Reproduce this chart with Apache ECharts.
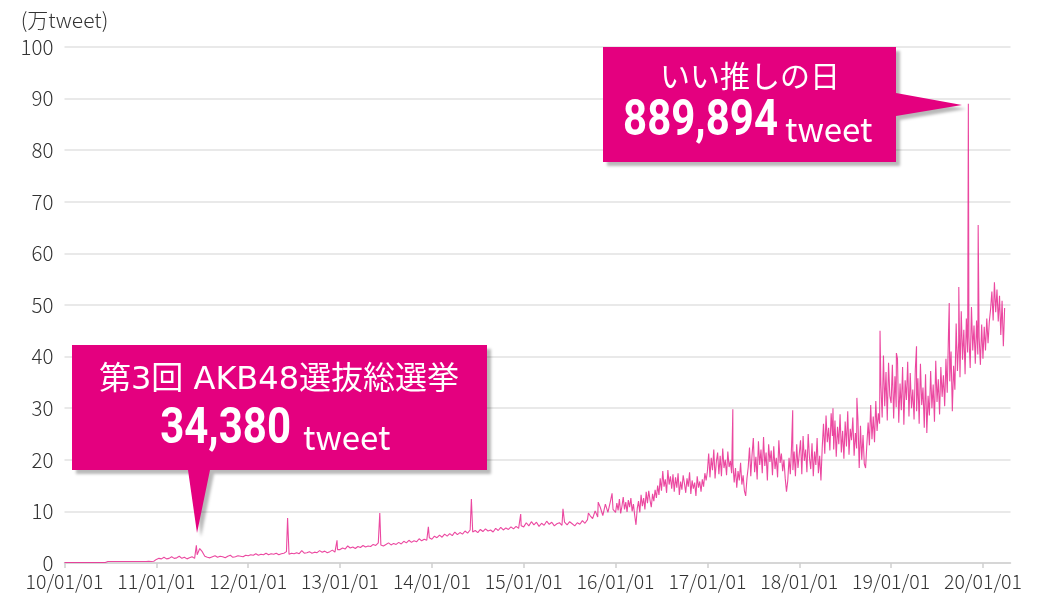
<!DOCTYPE html>
<html><head><meta charset="utf-8">
<script src="https://cdn.jsdelivr.net/npm/echarts@6/dist/echarts.min.js"></script>
<style>html,body{margin:0;padding:0;background:#fff}#c{width:1038px;height:603px}</style>
</head><body><div id="c"></div>
<script>
// x-axis tick labels (one per year start)
const tickYears = [2010,2011,2012,2013,2014,2015,2016,2017,2018,2019,2020];
const tickLabels = ['10/01/01','11/01/01','12/01/01','13/01/01','14/01/01','15/01/01','16/01/01','17/01/01','18/01/01','19/01/01','20/01/01'];

// tweets per day (万 tweet), read at regular steps through each year
const v2010 = [0.1,0.1,0.1,0.1,0.1,0.1,0.1,0.1,0.1,0.1,0.1,0.1,0.1,0.1,0.1,0.1,0.1,0.3,0.3,0.3,0.3,0.3,0.3,0.3,0.3,0.3,0.3,0.3,0.3,0.3,0.3,0.3,0.3,0.35,0.3,0.35];
const v2011 = [0.7,0.9,0.8,1.1,0.8,0.9,1.2,0.9,1.0,1.3,0.9,1.1,0.8,1.0,1.2,0.9,1.6,2.8,2.2,1.3,1.1,1.0,1.2,1.4,1.1,1.3,1.2,1.0,1.3,1.5,1.1,1.2,1.4,1.3,1.2,1.5];
const v2012 = [1.4,1.6,1.5,1.8,1.5,1.7,1.6,1.9,1.6,1.8,1.7,1.9,1.6,1.8,1.9,2.2,1.7,1.9,1.8,2.0,1.8,2.4,1.9,2.0,2.2,1.9,2.1,2.0,2.4,2.1,2.3,2.0,2.2,2.5,2.1,2.6];
const v2013 = [2.6,2.9,2.7,3.3,2.9,3.1,2.8,3.2,3.0,3.4,3.1,3.3,3.2,3.6,3.4,3.9,3.5,3.3,3.6,3.9,3.5,3.8,3.6,4.0,3.7,4.2,3.9,4.4,4.0,4.3,4.1,4.7,4.3,4.6,4.4,4.9];
const v2014 = [4.6,5.2,4.9,5.4,5.0,5.6,5.2,5.7,5.3,6.0,5.5,5.9,5.6,6.2,5.8,6.4,6.0,6.3,5.9,6.5,6.1,6.6,6.2,6.4,6.0,6.7,6.3,6.9,6.4,6.8,6.5,7.0,6.6,7.1,6.7,7.2];
const v2015 = [7.0,7.8,7.2,8.0,7.4,7.9,7.1,7.7,7.3,8.1,7.5,7.9,7.2,7.6,7.8,7.3,7.9,7.4,8.0,7.6,7.2,7.8,7.5,8.2,7.7,8.4,9.2,8.6,10.1,8.9,10.8,9.2,11.4,9.8,12.0,10.4];
const v2016 = [9.8,11.6,10.2,12.4,9.6,11.0,12.8,10.4,11.8,9.9,12.2,10.8,12.6,10.0,11.4,
  9.2,7.4,10.6,
  12.0,9.8,13.2,11.0,12.6,10.4,13.8,11.6,14.0,12.2,10.8,13.4,12.0,14.2,12.6,
  15.0,13.2,16.4,14.0,17.8,14.8,16.2,13.6,18.0,15.2,16.8,14.4,17.2,
  13.8,16.6,14.6,17.4,13.2,15.8,14.2,17.0,15.4,13.6,16.4,14.8,17.6,13.4,16.0,14.4,15.6,13.0,16.8,14.6,15.8,13.8,
  16.2,14.8,17.4,16.0];
const v2017 = [17.8,21.2,16.6,20.4,18.0,22.0,16.4,19.6,21.4,17.2,20.8,16.8,22.2,18.4,20.0,17.0,21.6,18.6,19.8,17.4,
  19.2,15.6,18.4,14.6,17.8,16.0,19.4,15.2,17.0,14.0,13.0,16.4,
  18.6,22.4,16.8,21.0,24.2,17.6,20.6,16.2,23.6,19.0,22.0,17.4,24.4,18.8,21.4,16.0,23.0,19.6,21.8,17.0,22.6,18.2,20.4,16.6,23.8,19.4,21.2,17.8,20.0,16.4,
  13.8,16.0,
  20.4,17.2,22.8,18.0,21.6,16.8,23.0,18.4];
const v2018 = [18.6,23.8,17.2,24.6,19.8,22.0,17.6,25.0,20.4,18.2,23.2,16.8,21.6,19.0,24.2,17.4,20.8,16.0,
  22.4,27.0,21.2,28.6,23.4,26.2,21.8,29.0,24.6,22.0,27.6,
  20.6,26.4,23.0,28.8,21.4,25.6,20.2,27.4,22.6,29.4,21.0,26.0,23.8,28.2,20.8,25.2,22.2,27.8,
  18.4,26.6,20.0,24.8,
  19.2,18.4,23.0,
  27.2,22.8,30.6,24.0,28.4,23.4,31.4,25.6,29.0,
  27.0,34.6,28.2,40.2,30.4,37.0,27.6,38.8,32.4];
const v2019 = [31.0,38.4,28.0,36.2,30.2,39.6,27.2,34.8,29.6,38.0,26.8,35.4,31.6,39.0,28.4,36.8,30.0,33.6,27.8,37.6,
  29.4,35.8,27.0,38.6,30.6,34.0,26.2,36.6,25.2,32.4,28.6,37.2,30.0,34.6,27.4,39.2,31.2,35.6,28.8,38.0,32.2,36.4,30.4,39.6,33.0,
  44.6,35.2,41.0,29.4,38.2,33.6,
  46.4,37.2,43.0,36.0,48.8,39.4,45.2,36.6,47.4,40.8,44.0,37.8,49.6,41.2,46.0,38.6,47.0,40.4,
  43.8,38.4,46.2];
const v2020 = [39.6,45.8,41.2,47.4,42.6,46.8,
  49.2,52.6,47.0,54.4,48.6,53.0,46.8,51.8,
  44.2,50.8,42.0,49.4];

// single-day spikes
const spikeDates  = ['2011-06-09','2012-06-06','2012-12-20','2013-06-08','2013-12-18','2014-06-07','2014-12-20','2015-06-06','2015-09-15','2015-10-24','2015-12-18','2017-04-12','2017-12-06','2018-05-15','2018-08-18','2018-11-18','2019-01-22','2019-04-12','2019-08-20','2019-09-27','2019-11-04','2019-12-13'];
const spikeValues = [3.438,8.7,4.4,9.7,7.0,12.4,9.5,10.5,9.7,11.8,13.5,29.8,29.6,30.0,32.0,45.0,40.7,42.0,50.4,53.5,88.9894,65.5];

// callout texts
const callout1 = {title:'いい推しの日', value:'889,894', unit:'tweet'};
const callout2 = {title:'第3回 AKB48選抜総選挙', value:'34,380', unit:'tweet'};

function fy(s){
  const d = Date.parse(s+'T00:00:00Z');
  const y = +s.slice(0,4);
  const a = Date.UTC(y,0,1), b = Date.UTC(y+1,0,1);
  return y + (d-a)/(b-a);
}
// [year, values, samples per year]
const yearly = [[2010,v2010,36],[2011,v2011,36],[2012,v2012,36],[2013,v2013,36],[2014,v2014,36],[2015,v2015,36],
                [2016,v2016,72],[2017,v2017,72],[2018,v2018,72],[2019,v2019,72],[2020,v2020,72]];
const pts = [];
yearly.forEach(([y,arr,n]) => arr.forEach((v,k) => pts.push([y + k/n, v])));
spikeDates.forEach((d,i) => pts.push([fy(d), spikeValues[i]]));
pts.sort((a,b)=>a[0]-b[0]);

const MAG = '#e4007f';
const CJK = '"Noto Sans CJK JP", "Noto Sans", sans-serif';
const TITLE = '"DejaVu Sans", "Noto Sans CJK JP", sans-serif';
const NUM = 'Roboto, "Noto Sans", sans-serif';
const shadow = {shadowColor:'rgba(0,0,0,0.28)', shadowBlur:3, shadowOffsetX:4, shadowOffsetY:4};

const chart = echarts.init(document.getElementById('c'), null, {renderer:'canvas'});
chart.setOption({
  animation:false,
  backgroundColor:'#fff',
  grid:{left:64.5, right:27.5, top:47, bottom:40, containLabel:false},
  xAxis:{
    type:'value', min:2010, max:2020.3,
    axisLine:{show:true, lineStyle:{color:'#cfcfcf', width:1.5}},
    axisTick:{show:true, length:5, customValues:tickYears, lineStyle:{color:'#cfcfcf', width:1.5}},
    axisLabel:{customValues:tickYears, color:'#333', fontSize:19.5, fontWeight:300, fontFamily:CJK, margin:9,
      formatter:(v)=>{const i=tickYears.indexOf(Math.round(v)); return i>=0?tickLabels[i]:'';}},
    splitLine:{show:false}
  },
  yAxis:{
    type:'value', min:0, max:100, interval:10,
    name:'(万tweet)', nameLocation:'end', nameGap:16,
    nameTextStyle:{color:'#333', fontSize:21, fontWeight:300, fontFamily:CJK, align:'center'},
    axisLine:{show:false}, axisTick:{show:false},
    axisLabel:{color:'#333', fontSize:20.5, fontWeight:300, fontFamily:CJK, margin:11},
    splitLine:{show:true, lineStyle:{color:'#e2e2e2', width:1.5}}
  },
  series:[{
    type:'line', data:pts, showSymbol:false, sampling:null,
    lineStyle:{color:'#e8288f', width:1.1, opacity:0.85},
    z:2
  }],
  graphic:[
    {type:'polygon', z:10, shape:{points:[[603,47],[896,47],[896,93],[962,105],[896,116],[896,162],[603,162]]}, style:Object.assign({fill:MAG}, shadow)},
    {type:'text', z:11, x:750, y:76, style:{text:callout1.title, x:0, y:0, align:'center', verticalAlign:'middle', fill:'#fff', font:'30px '+CJK}},
    {type:'text', z:11, x:778, y:122, scaleX:0.84, style:{text:callout1.value, x:0, y:0, align:'right', verticalAlign:'middle', fill:'#fff', font:'bold 50px '+NUM}},
    {type:'text', z:11, x:785, y:129, style:{text:callout1.unit, x:0, y:0, align:'left', verticalAlign:'middle', fill:'#fff', font:'33px '+CJK}},
    {type:'polygon', z:10, shape:{points:[[72,345],[487,345],[487,470],[210,470],[197,533],[188,470],[72,470]]}, style:Object.assign({fill:MAG}, shadow)},
    {type:'text', z:11, x:279, y:381, style:{text:callout2.title, x:0, y:0, align:'center', verticalAlign:'middle', fill:'#fff', font:'32px '+TITLE}},
    {type:'text', z:11, x:291, y:430, scaleX:0.84, style:{text:callout2.value, x:0, y:0, align:'right', verticalAlign:'middle', fill:'#fff', font:'bold 50px '+NUM}},
    {type:'text', z:11, x:303, y:437, style:{text:callout2.unit, x:0, y:0, align:'left', verticalAlign:'middle', fill:'#fff', font:'33px '+CJK}}
  ]
});
</script></body></html>
